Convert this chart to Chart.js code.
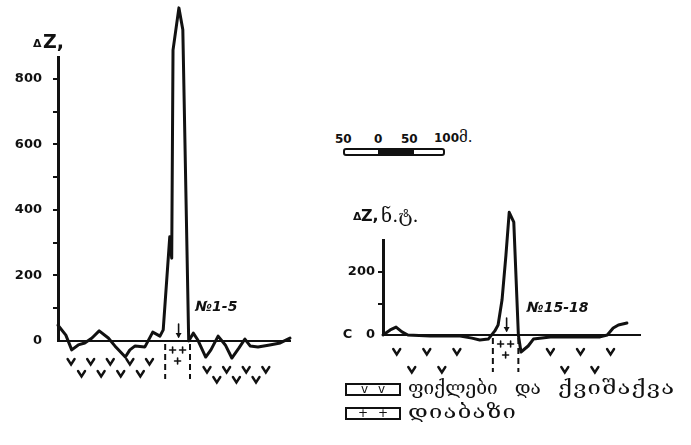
<!DOCTYPE html>
<html>
<head>
<meta charset="utf-8">
<script src="https://cdn.jsdelivr.net/npm/chart.js@4.4.1/dist/chart.umd.min.js"></script>
<style>
  body { margin: 0; background: #fff; width: 691px; height: 445px; position: relative; overflow: hidden; color: #111; font-family: "DejaVu Sans", sans-serif; }
  canvas { position: absolute; }
  #profile1 { left: 0; top: 0; }
  #profile2 { left: 330px; top: 190px; }
  .num { position: absolute; top: 133px; font-weight: bold; font-size: 12px; line-height: 12px; }
  .num b { font-family: "DejaVu Serif", serif; font-weight: normal; font-size: 15px; }
  .bar { position: absolute; left: 343px; top: 148px; width: 98px; height: 4px; border: 2px solid #111; border-radius: 3px; }
  .bar i { position: absolute; left: 33px; top: 0; width: 36px; height: 4px; background: #111; }
  .key { position: absolute; left: 345px; width: 56px; height: 13px; box-sizing: border-box; border: 2px solid #111; font-size: 12px; line-height: 9px; text-align: center; word-spacing: 6px; }
  .keytxt { position: absolute; left: 408px; font-family: "DejaVu Serif", "DejaVu Sans", serif; font-size: 19px; line-height: 19px; word-spacing: 11px; white-space: nowrap; }
  .wide { display: inline-block; transform: scaleX(1.25); transform-origin: left center; letter-spacing: 1px; }
</style>
</head>
<body>
<canvas id="profile1" width="300" height="400"></canvas>
<canvas id="profile2" width="361" height="210"></canvas>

<!-- scale bar -->
<span class="num" style="left:335px">50</span>
<span class="num" style="left:374px">0</span>
<span class="num" style="left:401px">50</span>
<span class="num" style="left:434px;top:131px"><span style="font-size:12px">100</span><b>მ.</b></span>
<div class="bar"><i></i></div>

<!-- legend -->
<div class="key" style="top:383px">v v</div>
<div class="keytxt" style="top:378px">ფიქლები და <span class="wide">ქვიშაქვა</span></div>
<div class="key" style="top:407px">+ +</div>
<div class="keytxt" style="top:402px"><span class="wide">დიაბაზი</span></div>

<script>
// Profile №1-5: distance along the line (m) and vertical anomaly ΔZ
const dist1 = [0, 12, 21, 31, 41, 52, 63, 77, 87, 103, 110, 118, 133, 145, 156, 161, 171, 174, 176, 185,
               191, 200, 207, 214, 226, 234, 245, 256, 266, 277, 286, 294, 306, 324, 340, 355];
const dz1   = [48, 18, -27, -12, -6, 9, 31, 9, -15, -49, -27, -15, -18, 27, 15, 34, 318, 253, 888, 1017,
               950, 0, 24, 3, -49, -27, 15, -12, -52, -21, 6, -15, -18, -12, -6, 9];

// Profile №15-18
const dist2 = [0, 11, 20, 29, 38, 72, 118, 136, 148, 161, 171, 176, 182, 188, 193, 200, 207, 211, 222, 230,
               256, 332, 343, 352, 360, 373];
const dz2   = [0, 16, 25, 10, 0, -3, -3, -10, -16, -13, 13, 32, 111, 254, 390, 359, 0, -54, -35, -13,
               -6, -6, 0, 22, 32, 38];

// y-axis ticks and their labels
const ticks1 = [0, 100, 200, 300, 400, 500, 600, 700, 800];
const tickLabels1 = ['0', '', '200', '', '400', '', '600', '', '800'];
const ticks2 = [0, 100, 200];
const tickLabels2 = ['C   0', '', '200'];

// rock units along each profile (m)
const rocks1 = [['shale', 0, 164], ['diabase', 164, 202], ['shale', 202, 355]];
const rocks2 = [['shale', 0, 168], ['diabase', 168, 207], ['shale', 207, 393]];

const ink = '#111';
const tickFont = { family: 'DejaVu Sans', size: 13, weight: 'bold' };

// draws the geology under the zero line, the profile number and the axis title
const geology = {
  id: 'geology',
  afterDatasetsDraw(chart, args, o) {
    const { ctx, chartArea } = chart;
    const xs = chart.scales.x, ys = chart.scales.y;
    const y0 = ys.getPixelForValue(0);
    ctx.save();
    ctx.strokeStyle = ink;
    ctx.fillStyle = ink;
    ctx.lineCap = 'round';

    o.rocks.forEach(([rock, from, to], i) => {
      const xa = xs.getPixelForValue(from), xb = xs.getPixelForValue(to);
      if (rock === 'diabase') {
        // contacts
        ctx.lineWidth = 2;
        ctx.lineCap = 'butt';
        ctx.setLineDash([6, 4]);
        [xa, xb].forEach(x => {
          ctx.beginPath(); ctx.moveTo(x, y0 + 3); ctx.lineTo(x, y0 + o.contactDepth); ctx.stroke();
        });
        ctx.setLineDash([]);
        ctx.lineCap = 'round';
        const xc = (xa + xb) / 2;
        ctx.lineWidth = 1.6;
        [[xc - 5, y0 + 9], [xc + 5, y0 + 9], [xc, y0 + 20]].forEach(([x, y]) => {
          ctx.beginPath();
          ctx.moveTo(x - 3, y); ctx.lineTo(x + 3, y);
          ctx.moveTo(x, y - 3); ctx.lineTo(x, y + 3);
          ctx.stroke();
        });
        // field arrow
        ctx.lineWidth = 1.6;
        ctx.beginPath(); ctx.moveTo(xc + 1, y0 - 17); ctx.lineTo(xc + 1, y0 - 4); ctx.stroke();
        ctx.beginPath(); ctx.moveTo(xc - 2, y0 - 8); ctx.lineTo(xc + 1, y0 - 3); ctx.lineTo(xc + 4, y0 - 8); ctx.fill();
      } else {
        const rows = o.rows[i];
        ctx.lineWidth = 2.4;
        rows.forEach(r => {
          for (let m = from + r.start; m <= to - r.stop; m += o.step) {
            const x = xs.getPixelForValue(m), y = y0 + r.dy;
            ctx.beginPath();
            ctx.moveTo(x - 3.5, y - 3); ctx.lineTo(x, y + 2.5); ctx.lineTo(x + 3.5, y - 3);
            ctx.stroke();
          }
        });
      }
    });

    // profile number
    ctx.font = 'italic bold 14px "DejaVu Sans"';
    ctx.textBaseline = 'middle';
    ctx.fillText(o.name, xs.getPixelForValue(o.nameAt[0]), ys.getPixelForValue(o.nameAt[1]));

    // axis title
    const tx = chartArea.left - o.titleShift, ty = chartArea.top - o.titleLift;
    ctx.textBaseline = 'alphabetic';
    ctx.font = 'bold 11px "DejaVu Sans"';
    ctx.fillText('Δ', tx, ty);
    ctx.font = 'bold ' + o.zSize + 'px "DejaVu Sans"';
    ctx.fillText('Z,', tx + o.zGap, ty + 1);
    if (o.unit) {
      ctx.font = '19px "DejaVu Serif"';
      ctx.fillText(o.unit, chartArea.left - 2, ty + 2);
    }
    ctx.restore();
  }
};

function profileChart(id, dist, dz, xMax, yMax, ticks, labels, pad, axisWidth, tickPad, geo) {
  return new Chart(document.getElementById(id), {
    type: 'line',
    data: {
      datasets: [{
        data: dist.map((d, i) => ({ x: d, y: dz[i] })),
        borderColor: ink,
        borderWidth: 3,
        pointRadius: 0,
        tension: 0,
        borderJoinStyle: 'round',
        borderCapStyle: 'round',
        clip: false
      }]
    },
    options: {
      responsive: false,
      animation: false,
      layout: { padding: pad },
      plugins: {
        legend: { display: false },
        tooltip: { enabled: false },
        geology: geo
      },
      scales: {
        x: {
          type: 'linear',
          min: 0,
          max: xMax,
          afterFit: s => { s.height = 0; },
          ticks: { display: false },
          grid: { display: false },
          border: { color: ink, width: 2 }
        },
        y: {
          min: 0,
          max: yMax,
          afterFit: s => { s.width = axisWidth; },
          afterBuildTicks: s => { s.ticks = ticks.map(v => ({ value: v })); },
          ticks: {
            callback: (v, i) => labels[i],
            font: tickFont,
            color: ink,
            padding: tickPad
          },
          grid: {
            drawOnChartArea: false,
            tickLength: 5,
            color: ink,
            lineWidth: c => (c.tick && c.tick.value === 0 ? 0 : 2)
          },
          border: { color: ink, width: 3 }
        }
      }
    },
    plugins: [geology]
  });
}

profileChart('profile1', dist1, dz1, 355, 867, ticks1, tickLabels1,
  { left: 0, top: 57, right: 10, bottom: 59 }, 58, 11, {
    rocks: rocks1,
    contactDepth: 38,
    step: 30,
    rows: [
      [{ start: 20, stop: 14, dy: 21 }, { start: 36, stop: 30, dy: 33 }],
      null,
      [{ start: 26, stop: 12, dy: 29 }, { start: 41, stop: 30, dy: 39 }]
    ],
    name: '№1-5',
    nameAt: [210, 103],
    titleLift: 10,
    titleShift: 25,
    zSize: 19,
    zGap: 10,
    unit: ''
  });

profileChart('profile2', dist2, dz2, 393, 302, ticks2, tickLabels2,
  { left: 0, top: 50, right: 51, bottom: 65 }, 53, 3, {
    rocks: rocks2,
    contactDepth: 37,
    step: 46,
    rows: [
      [{ start: 21, stop: 20, dy: 17 }, { start: 44, stop: 40, dy: 35 }],
      null,
      [{ start: 49, stop: 20, dy: 17 }, { start: 71, stop: 40, dy: 35 }]
    ],
    name: '№15-18',
    nameAt: [220, 86],
    titleLift: 20,
    titleShift: 30,
    zSize: 16,
    zGap: 8,
    unit: 'ნ.ტ.'
  });
</script>
</body>
</html>
